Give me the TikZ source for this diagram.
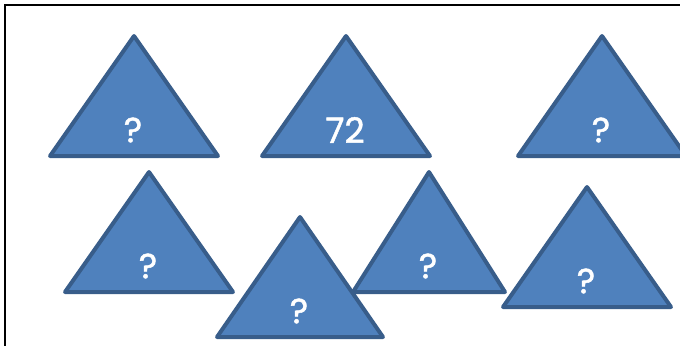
\documentclass[tikz,border=0pt]{standalone}
\usepackage{fontspec}
\setmainfont{Poppins}[FakeBold=1.3]
\usepackage{tikz}
\usetikzlibrary{positioning, calc}
\definecolor{trifill}{HTML}{4F81BD}
\definecolor{triline}{HTML}{385D8A}

\tikzset{
  tri/.style={fill=trifill, draw=triline, line width=2pt, line join=round},
  num/.style={text=white, font=\fontsize{17.5}{17.5}\selectfont, inner sep=0pt}
}

% triangolo: nome, apice x, apice y, semibase, altezza, testo
\newcommand{\tri}[6]{%
  \draw[tri] (#2,#3) -- (#2-#4,#3+#5) -- (#2+#4,#3+#5) -- cycle;
  \node[num] (#1) at (#2-1,#3+94) {#6};
}

\begin{document}
\begin{tikzpicture}[x=0.5pt, y=-0.5pt]
  \useasboundingbox (0,0) rectangle (680,345);
  \clip (0,0) rectangle (680,345);

  % cornice
  \draw[line width=1pt] (5,5) rectangle (700,370);

  % prima fila
  \tri{t1}{134}{36}{84}{120}{?}
  \tri{t2}{346}{36}{84}{120}{72}
  \tri{t3}{602}{36}{84}{120}{?}

  % seconda fila
  \tri{t4}{149}{172}{84}{120}{?}
  \tri{t6}{429}{172}{76}{120}{?}
  \tri{t5}{300}{217}{83}{120}{?}
  \tri{t7}{587}{187}{84}{120}{?}
\end{tikzpicture}
\end{document}
